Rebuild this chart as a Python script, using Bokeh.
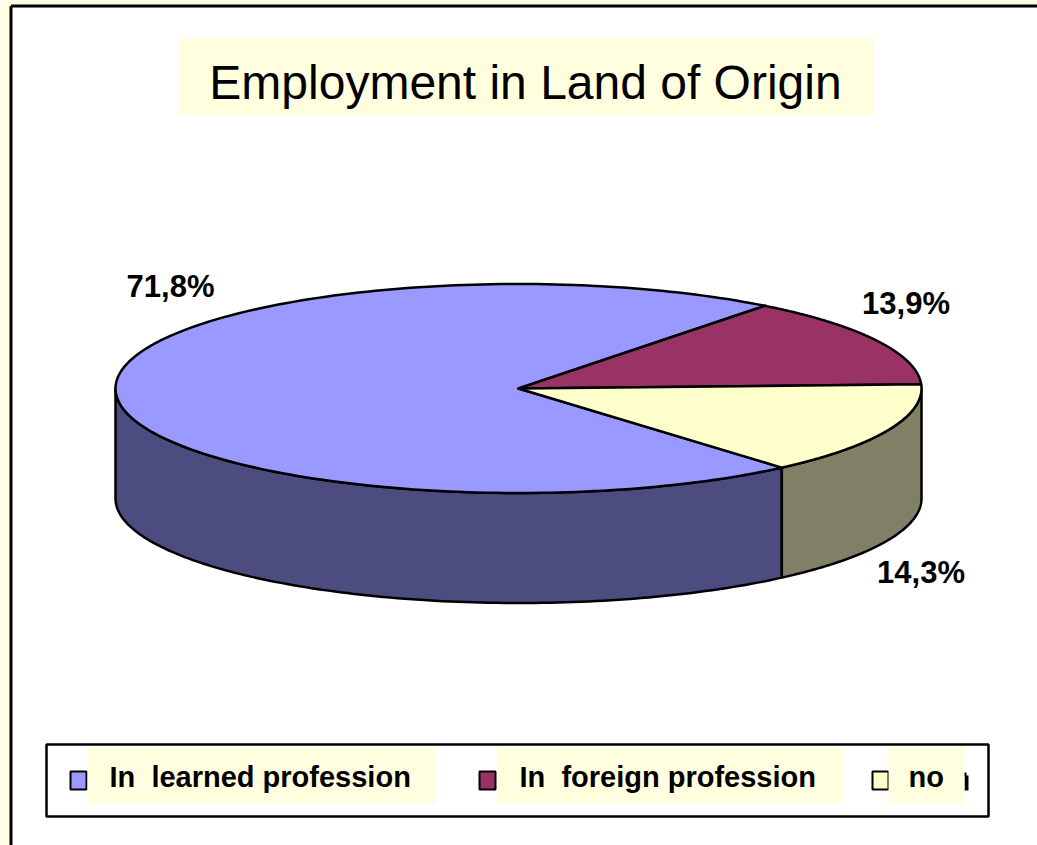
import numpy as np
from bokeh.plotting import figure
from bokeh.models import Range1d
from bokeh.core.properties import value
from bokeh.embed import file_html
from bokeh.resources import INLINE

# ---------------- data ----------------
title = "Employment in Land of Origin"
categories = ["In  learned profession", "In  foreign profession", "no"]
shares = [71.8, 13.9, 14.3]
top_colors = ["#9999FF", "#993366", "#FFFFCC"]
side_colors = ["#4C4C80", "#4D1A33", "#808066"]

# ---------------- layout ----------------
W, H = 1037, 845
FONT = "Liberation Sans"
PALE = "#FFFFE0"

p = figure(width=W, height=H, x_range=Range1d(0, W), y_range=Range1d(H, 0),
           output_backend="svg", toolbar_location=None, min_border=0)
p.axis.visible = False
p.grid.visible = False
p.outline_line_color = None
p.background_fill_color = "white"
p.border_fill_color = "white"

# outer frame (left and top edges visible)
p.quad(left=[0], right=[9], top=[0], bottom=[H], fill_color=PALE, line_color=None)
p.quad(left=[0], right=[W], top=[0], bottom=[4], fill_color=PALE, line_color=None)
p.line(x=[10.5, 10.5], y=[H, 5.5], line_color="black", line_width=3)
p.line(x=[10.5, W], y=[5.5, 5.5], line_color="black", line_width=3)

# title
p.quad(left=[178], right=[873], top=[38], bottom=[115], fill_color=PALE, line_color=None)
p.text(x=[525], y=[82], text=[title], text_font=value(FONT), text_font_size="48px",
       text_align="center", text_baseline="alphabetic", text_color="black")

# ---------------- 3D pie ----------------
cx, cy = 518.0, 388.0
rx, ry = 403.0, 104.5
depth = 110.0
start = -49.2  # degrees, slices run clockwise

def ell(t_deg, dy=0.0):
    t = np.radians(t_deg)
    return cx + rx * np.cos(t), cy - ry * np.sin(t) + dy

total = float(sum(shares))
bounds = []
a0 = start
for s in shares:
    a1 = a0 - 360.0 * s / total
    bounds.append((a1, a0))
    a0 = a1

# side walls (front half only)
side_xs, side_ys, side_c = [], [], []
for (a1, a0), col in zip(bounds, side_colors):
    for k in range(-3, 3):
        lo, hi = -180.0 + 360 * k, 0.0 + 360 * k
        s_lo, s_hi = max(a1, lo), min(a0, hi)
        if s_hi - s_lo > 1e-6:
            t = np.linspace(s_lo, s_hi, 120)
            xt, yt = ell(t)
            xb, yb = ell(t[::-1], depth)
            side_xs.append(list(np.concatenate([xt, xb])))
            side_ys.append(list(np.concatenate([yt, yb])))
            side_c.append(col)
p.patches(xs=side_xs, ys=side_ys, fill_color=side_c, line_color="black",
          line_width=2.5, line_join="round")

# top wedges
top_xs, top_ys = [], []
for (a1, a0) in bounds:
    t = np.linspace(a0, a1, 200)
    xt, yt = ell(t)
    top_xs.append([cx] + list(xt) + [cx])
    top_ys.append([cy] + list(yt) + [cy])
p.patches(xs=top_xs, ys=top_ys, fill_color=top_colors, line_color="black",
          line_width=2.5, line_join="round")

# percentage labels
labels = [("%.1f%%" % s).replace(".", ",") for s in shares]
lab_x = [170, 905.5, 920.5]
lab_y = [286, 303, 572]
p.text(x=lab_x, y=lab_y, text=labels, text_font=value(FONT), text_font_size="31px",
       text_font_style="bold", text_align="center", text_baseline="alphabetic",
       text_color="black")

# ---------------- legend ----------------
p.quad(left=[46], right=[988], top=[744], bottom=[816], fill_color="white",
       line_color="black", line_width=2.5)
# remnant glyph fragment at the right of the last entry
p.quad(left=[964], right=[968], top=[775], bottom=[790], fill_color="black", line_color=None)
p.quad(left=[960], right=[966], top=[772], bottom=[776], fill_color="black", line_color=None)
sw_left = [70, 479, 872]
p.quad(left=sw_left, right=[s + 16 for s in sw_left], top=[771] * 3, bottom=[789] * 3,
       fill_color=top_colors, line_color="black", line_width=2)
bg_left = [87, 497, 888]
bg_right = [435, 843, 964]
p.quad(left=bg_left, right=bg_right, top=[747] * 3, bottom=[803] * 3,
       fill_color=PALE, line_color=None)
shown = [c.replace("  ", " \u00a0") for c in categories]
p.text(x=[109, 519, 908], y=[776] * 3, text=shown, text_font=value(FONT),
       text_font_size="29px", text_font_style="bold", text_align="left",
       text_baseline="alphabetic", text_color="black")

open("out.html", "w").write(file_html(p, INLINE))
